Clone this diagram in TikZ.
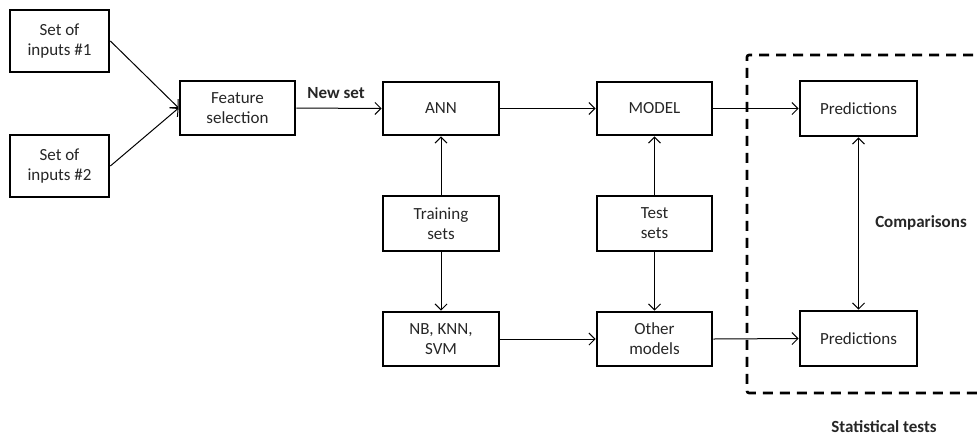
\documentclass[tikz,border=0pt]{standalone}
\usepackage{fontspec}
\setmainfont{Carlito}
\usetikzlibrary{arrows.meta}
\begin{document}
\begin{tikzpicture}[x=1pt,y=-1pt,
  box/.style={draw=black,line width=2.7pt,minimum width=#1,inner sep=0pt,align=center,text=black!85,font=\fontsize{17}{20}\selectfont},
  box/.default=116pt,
  arr/.style={line width=1pt,-{Straight Barb[length=6pt,width=12pt,line width=1pt]}},
  darr/.style={line width=1pt,{Straight Barb[length=6pt,width=12pt,line width=1pt]}-{Straight Barb[length=6pt,width=12pt,line width=1pt]}},
  lbl/.style={font=\fontsize{17}{20}\selectfont\bfseries,text=black!85,inner sep=0pt}]
\useasboundingbox (0,0) rectangle (979,437);
% nodes
\node[box=99pt,minimum height=62pt] (s1) at (59.5,41) {Set of\\inputs \#1};
\node[box=99pt,minimum height=62pt] (s2) at (59.5,166) {Set of\\inputs \#2};
\node[box=115pt,minimum height=54pt] (fs) at (237.5,108) {Feature\\selection};
\node[box,minimum height=53pt] (ann) at (441,108.5) {ANN};
\node[box=115pt,minimum height=53pt] (model) at (654.5,108.5) {MODEL};
\node[box,minimum height=55pt] (train) at (441,223.5) {Training\\sets};
\node[box=115pt,minimum height=55pt] (test) at (654.5,223.5) {Test\\sets};
\node[box,minimum height=54pt] (nb) at (441,339) {NB, KNN,\\SVM};
\node[box=115pt,minimum height=54pt] (other) at (654.5,339) {Other\\models};
\node[box=117pt,minimum height=55pt] (p1) at (858.5,108.5) {Predictions};
\node[box=117pt,minimum height=55pt] (p2) at (858.5,338.5) {Predictions};
% dashed group
\draw[line width=2.6pt,dash pattern=on 10pt off 7pt,rounded corners=2pt] (990,55) -- (747,55) -- (747,393) -- (990,393);
% connectors
\draw[arr] (s1.east) -- (fs.west);
\draw[arr] (s2.east) -- (fs.west);
\draw[arr] (fs.east) -- (ann.west);
\draw[arr] (ann.east) -- (model.west);
\draw[arr] (model.east) -- (p1.west);
\draw[arr] (train.north) -- (ann.south);
\draw[arr] (train.south) -- (nb.north);
\draw[arr] (test.north) -- (model.south);
\draw[arr] (test.south) -- (other.north);
\draw[arr] (nb.east) -- (other.west);
\draw[arr] (other.east) -- (p2.west);
\draw[darr] (p1.south) -- (p2.north);
% labels
\node[lbl] (newset) at (336,93) {New set};
\node[lbl] (comp) at (921,223) {Comparisons};
\node[lbl] (stat) at (884,427) {Statistical tests};
\end{tikzpicture}
\end{document}
